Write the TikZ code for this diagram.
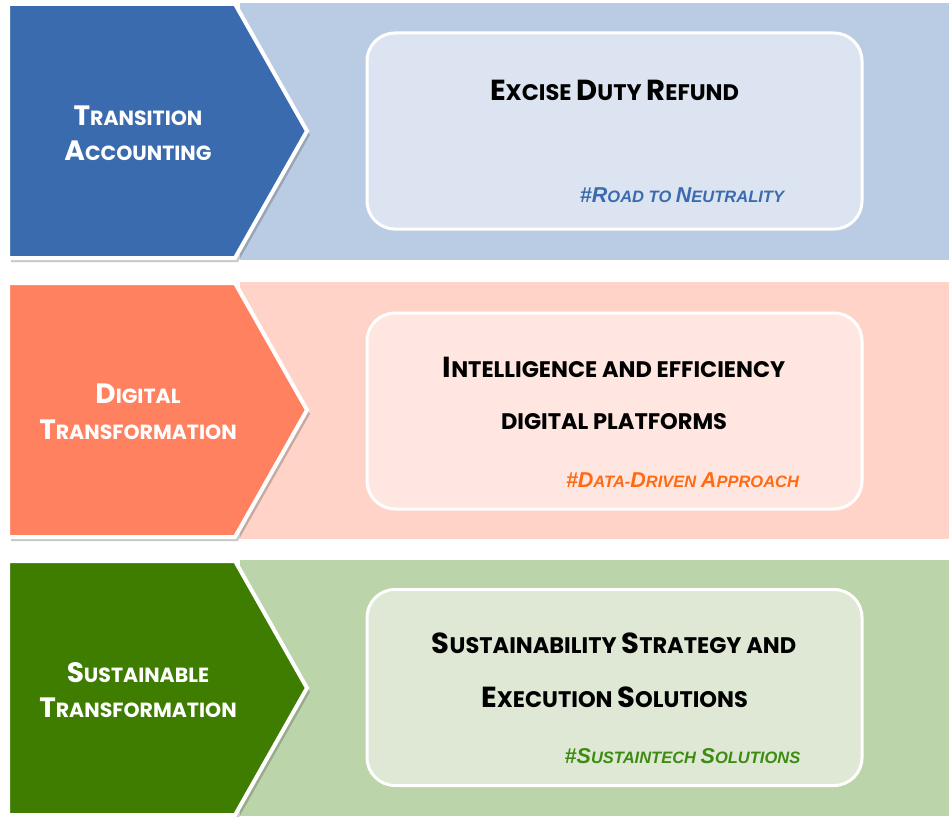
\documentclass[tikz,border=0pt]{standalone}
\usepackage{fontspec}
\setmainfont{Poppins}
\newfontfamily\hashfont{Liberation Sans}
\usetikzlibrary{shadows}
\definecolor{chevA}{HTML}{3A6BAE}
\definecolor{bandA}{HTML}{B9CCE4}
\definecolor{boxA}{HTML}{DCE4F1}
\definecolor{hashA}{HTML}{3A6BAE}
\definecolor{chevB}{HTML}{FF8160}
\definecolor{bandB}{HTML}{FFD3C7}
\definecolor{boxB}{HTML}{FFE6E0}
\definecolor{hashB}{HTML}{FF6A13}
\definecolor{chevC}{HTML}{3E7D00}
\definecolor{bandC}{HTML}{BCD4A9}
\definecolor{boxC}{HTML}{DEE8D4}
\definecolor{hashC}{HTML}{3D8B12}
% small-caps helpers: node font = small size, \xB = capital size
\newcommand\cvB[1]{{\fontsize{28}{30}\selectfont #1}}
\newcommand\bxB[1]{{\fontsize{29}{31}\selectfont #1}}
\newcommand\hsB[1]{{\fontsize{21.5}{22}\selectfont #1}}
\tikzset{
  chevshape/.style={draw=white, line width=4pt, line join=miter,
    drop shadow={shadow xshift=3pt, shadow yshift=-4pt, opacity=0.3, fill=black!70}},
  roundbox/.style={draw=white, line width=3pt, rounded corners=28pt,
    minimum width=495pt, minimum height=196pt, inner sep=0pt},
  chevtext/.style={anchor=base, text=white, inner sep=0pt,
    font=\fontsize{20.5}{22}\selectfont\bfseries},
  boxtext/.style={anchor=base, text=black, inner sep=0pt,
    font=\fontsize{22.5}{24}\selectfont\bfseries},
  hashtext/.style={anchor=base, inner sep=0pt,
    font=\hashfont\fontsize{16.5}{18}\selectfont\bfseries\itshape},
}
\begin{document}
\begin{tikzpicture}[x=1pt,y=-1pt]
\useasboundingbox (0,0) rectangle (949,816);
\fill[white] (0,0) rectangle (949,816);
% ---------- band 1 ----------
\fill[bandA] (240,3) rectangle (949,260);
\path[chevshape, fill=chevA] (8,4) -- (235,4) -- (307,131) -- (235,258) -- (8,258) -- cycle;
\node[roundbox, fill=boxA] (boxa) at (614.5,131) {};
\node[chevtext] (ca1) at (138,125) {\cvB{T}RANSITION};
\node[chevtext] (ca2) at (138,160) {\cvB{A}CCOUNTING};
\node[boxtext] (ba1) at (614.5,100) {\bxB{E}XCISE \bxB{D}UTY \bxB{R}EFUND};
\node[hashtext, text=hashA] (ha) at (682,202) {\hsB{\#R}OAD TO \hsB{N}EUTRALITY};
% ---------- band 2 ----------
\fill[bandB] (240,282) rectangle (949,539);
\path[chevshape, fill=chevB] (8,283) -- (235,283) -- (307,410) -- (235,537) -- (8,537) -- cycle;
\node[roundbox, fill=boxB] (boxb) at (614.5,411) {};
\node[chevtext] (cb1) at (138,403) {\cvB{D}IGITAL};
\node[chevtext] (cb2) at (138,439) {\cvB{T}RANSFORMATION};
\node[boxtext] (bb1) at (614,377) {\bxB{I}NTELLIGENCE AND EFFICIENCY};
\node[boxtext] (bb2) at (614,429) {DIGITAL PLATFORMS};
\node[hashtext, text=hashB] (hb) at (682.5,487) {\hsB{\#D}ATA-\hsB{D}RIVEN \hsB{A}PPROACH};
% ---------- band 3 ----------
\fill[bandC] (240,560) rectangle (949,816);
\path[chevshape, fill=chevC] (8,561) -- (235,561) -- (307,688) -- (235,815) -- (8,815) -- cycle;
\node[roundbox, fill=boxC] (boxc) at (614.5,687.5) {};
\node[chevtext] (cc1) at (138,682) {\cvB{S}USTAINABLE};
\node[chevtext] (cc2) at (138,717) {\cvB{T}RANSFORMATION};
\node[boxtext] (bc1) at (614,653) {\bxB{S}USTAINABILITY \bxB{S}TRATEGY AND};
\node[boxtext] (bc2) at (614.5,707) {\bxB{E}XECUTION \bxB{S}OLUTIONS};
\node[hashtext, text=hashC] (hc) at (682.5,763) {\hsB{\#S}USTAINTECH \hsB{S}OLUTIONS};
\end{tikzpicture}
\end{document}
